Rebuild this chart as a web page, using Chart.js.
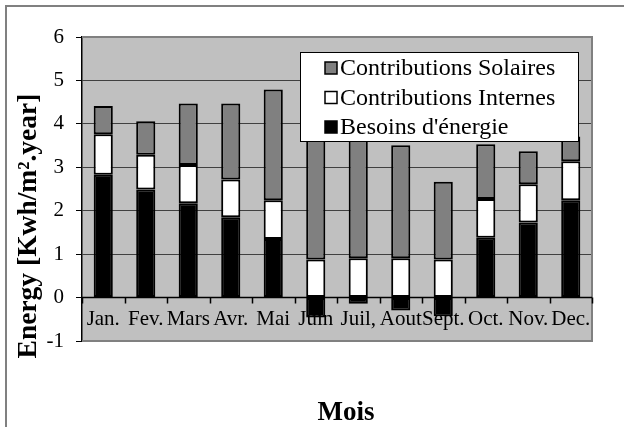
<!DOCTYPE html>
<html>
<head>
<meta charset="utf-8">
<script src="https://cdn.jsdelivr.net/npm/chart.js@4.4.1/dist/chart.umd.min.js"></script>
<style>
  html, body { margin: 0; padding: 0; background: white; }
  #box { width: 624px; height: 427px; }
</style>
</head>
<body>
<div id="box"><canvas id="myChart" width="624" height="427"></canvas></div>
<script>
// mois
const months = ['Jan.', 'Fev.', 'Mars', 'Avr.', 'Mai', 'Juin', 'Juil,', 'Aout', 'Sept.', 'Oct.', 'Nov.', 'Dec.'];

// valeurs (kWh/m².year)
const besoins = [2.83, 2.49, 2.17, 1.85, 1.35, -0.46, -0.14, -0.30, -0.43, 1.38, 1.73, 2.24];
const internes = [0.93, 0.80, 0.88, 0.87, 0.89, 0.875, 0.905, 0.905, 0.875, 0.89, 0.88, 0.90];
const solaires = [0.65, 0.77, 1.42, 1.75, 2.55, 3.42, 3.60, 2.60, 1.79, 1.26, 0.76, 0.57];

const yTicks = [-1, 0, 1, 2, 3, 4, 5, 6];

const serif = 'Liberation Serif';

// fond gris, axe 0, étiquettes des mois, légende, cadre
const excelLook = {
  id: 'excelLook',
  beforeDraw(chart) {
    const c = chart.ctx;
    const a = chart.chartArea;
    c.save();
    c.fillStyle = 'white';
    c.fillRect(0, 0, chart.width, chart.height);
    c.fillStyle = '#c0c0c0';
    c.fillRect(a.left, a.top, a.right - a.left, a.bottom - a.top);
    c.restore();
  },
  afterDatasetsDraw(chart) {
    const c = chart.ctx;
    const a = chart.chartArea;
    const x = chart.scales.x;
    const y = chart.scales.y;
    const y0 = y.getPixelForValue(0);
    c.save();

    // bord du graphique (haut, droite, bas)
    c.strokeStyle = '#808080';
    c.lineWidth = 2;
    c.beginPath();
    c.moveTo(a.left, a.top);
    c.lineTo(a.right, a.top);
    c.lineTo(a.right, a.bottom);
    c.lineTo(a.left, a.bottom);
    c.stroke();

    // axe des x à 0
    c.strokeStyle = '#000';
    c.lineWidth = 1.5;
    c.beginPath();
    c.moveTo(a.left, y0);
    c.lineTo(a.right, y0);
    for (let i = 0; i <= months.length; i++) {
      const px = Math.round(a.left + (a.right - a.left) * i / months.length) + 0.5;
      c.moveTo(px, y0);
      c.lineTo(px, y0 + 6);
    }
    c.stroke();

    // étiquettes des mois
    c.fillStyle = '#000';
    c.font = '21px "' + serif + '"';
    c.textAlign = 'center';
    c.textBaseline = 'middle';
    const ly = y.getPixelForValue(-0.5);
    months.forEach((m, i) => {
      c.fillText(m, x.getPixelForValue(i), ly);
    });

    // légende
    const lx = 300, ltop = 52, lw = 278, lh = 89;
    c.fillStyle = 'white';
    c.fillRect(lx, ltop, lw, lh);
    c.strokeStyle = '#000';
    c.lineWidth = 1;
    c.strokeRect(lx + 0.5, ltop + 0.5, lw, lh);
    const items = chart.data.datasets.slice().reverse();
    c.font = '24px "' + serif + '"';
    c.textAlign = 'left';
    items.forEach((d, i) => {
      const cy = ltop + 16 + i * 29.5;
      c.fillStyle = d.backgroundColor;
      c.fillRect(325, cy - 6, 12, 12);
      c.lineWidth = 1.5;
      c.strokeStyle = '#000';
      c.strokeRect(325, cy - 6, 12, 12);
      c.fillStyle = '#000';
      c.fillText(d.label, 340, cy + 1);
    });

    // titre de l'axe y
    c.save();
    c.translate(29, 226);
    c.rotate(-Math.PI / 2);
    c.font = 'bold 27.5px "' + serif + '"';
    c.textAlign = 'center';
    c.fillText('Energy [Kwh/m².year]', 0, 0);
    c.restore();

    // titre de l'axe x
    c.font = 'bold 27px "' + serif + '"';
    c.textAlign = 'center';
    c.textBaseline = 'alphabetic';
    c.fillText('Mois', (a.left + a.right) / 2 + 9, 420);

    // cadre extérieur
    c.strokeStyle = '#808080';
    c.lineWidth = 2;
    c.beginPath();
    c.moveTo(6, chart.height);
    c.lineTo(6, 6);
    c.lineTo(chart.width, 6);
    c.stroke();
    c.restore();
  }
};

window.onload = function() {
  var ctx = document.getElementById('myChart').getContext('2d');
  Chart.defaults.font.family = serif;
  Chart.defaults.color = '#000';

  new Chart(ctx, {
    type: 'bar',
    data: {
      labels: months,
      datasets: [
        {
          label: "Besoins d'énergie",
          data: besoins,
          backgroundColor: '#000000',
          borderColor: '#000',
          borderWidth: 2,
          borderSkipped: false
        },
        {
          label: 'Contributions Internes',
          data: internes,
          backgroundColor: '#ffffff',
          borderColor: '#000',
          borderWidth: 2,
          borderSkipped: false
        },
        {
          label: 'Contributions Solaires',
          data: solaires,
          backgroundColor: '#808080',
          borderColor: '#000',
          borderWidth: 2,
          borderSkipped: false
        }
      ]
    },
    options: {
      responsive: false,
      animation: false,
      devicePixelRatio: 1,
      layout: { padding: { top: 37, right: 32, left: 0, bottom: 0 } },
      plugins: {
        legend: { display: false },
        tooltip: { enabled: false }
      },
      datasets: {
        bar: { categoryPercentage: 1, barPercentage: 0.45 }
      },
      scales: {
        x: {
          stacked: true,
          grid: { display: false },
          border: { display: false },
          ticks: { display: false },
          afterFit: function(s) { s.height = 86; }
        },
        y: {
          stacked: true,
          min: -1,
          max: 6,
          afterBuildTicks: function(s) { s.ticks = yTicks.map(v => ({ value: v })); },
          ticks: {
            font: { family: serif, size: 21 },
            color: '#000',
            padding: 12
          },
          grid: {
            color: '#404040',
            tickColor: '#000',
            tickLength: 6,
            lineWidth: 1
          },
          border: { display: true, color: '#000', width: 1.5 },
          afterFit: function(s) { s.width = 82; }
        }
      }
    },
    plugins: [excelLook]
  });
};
</script>
</body>
</html>
